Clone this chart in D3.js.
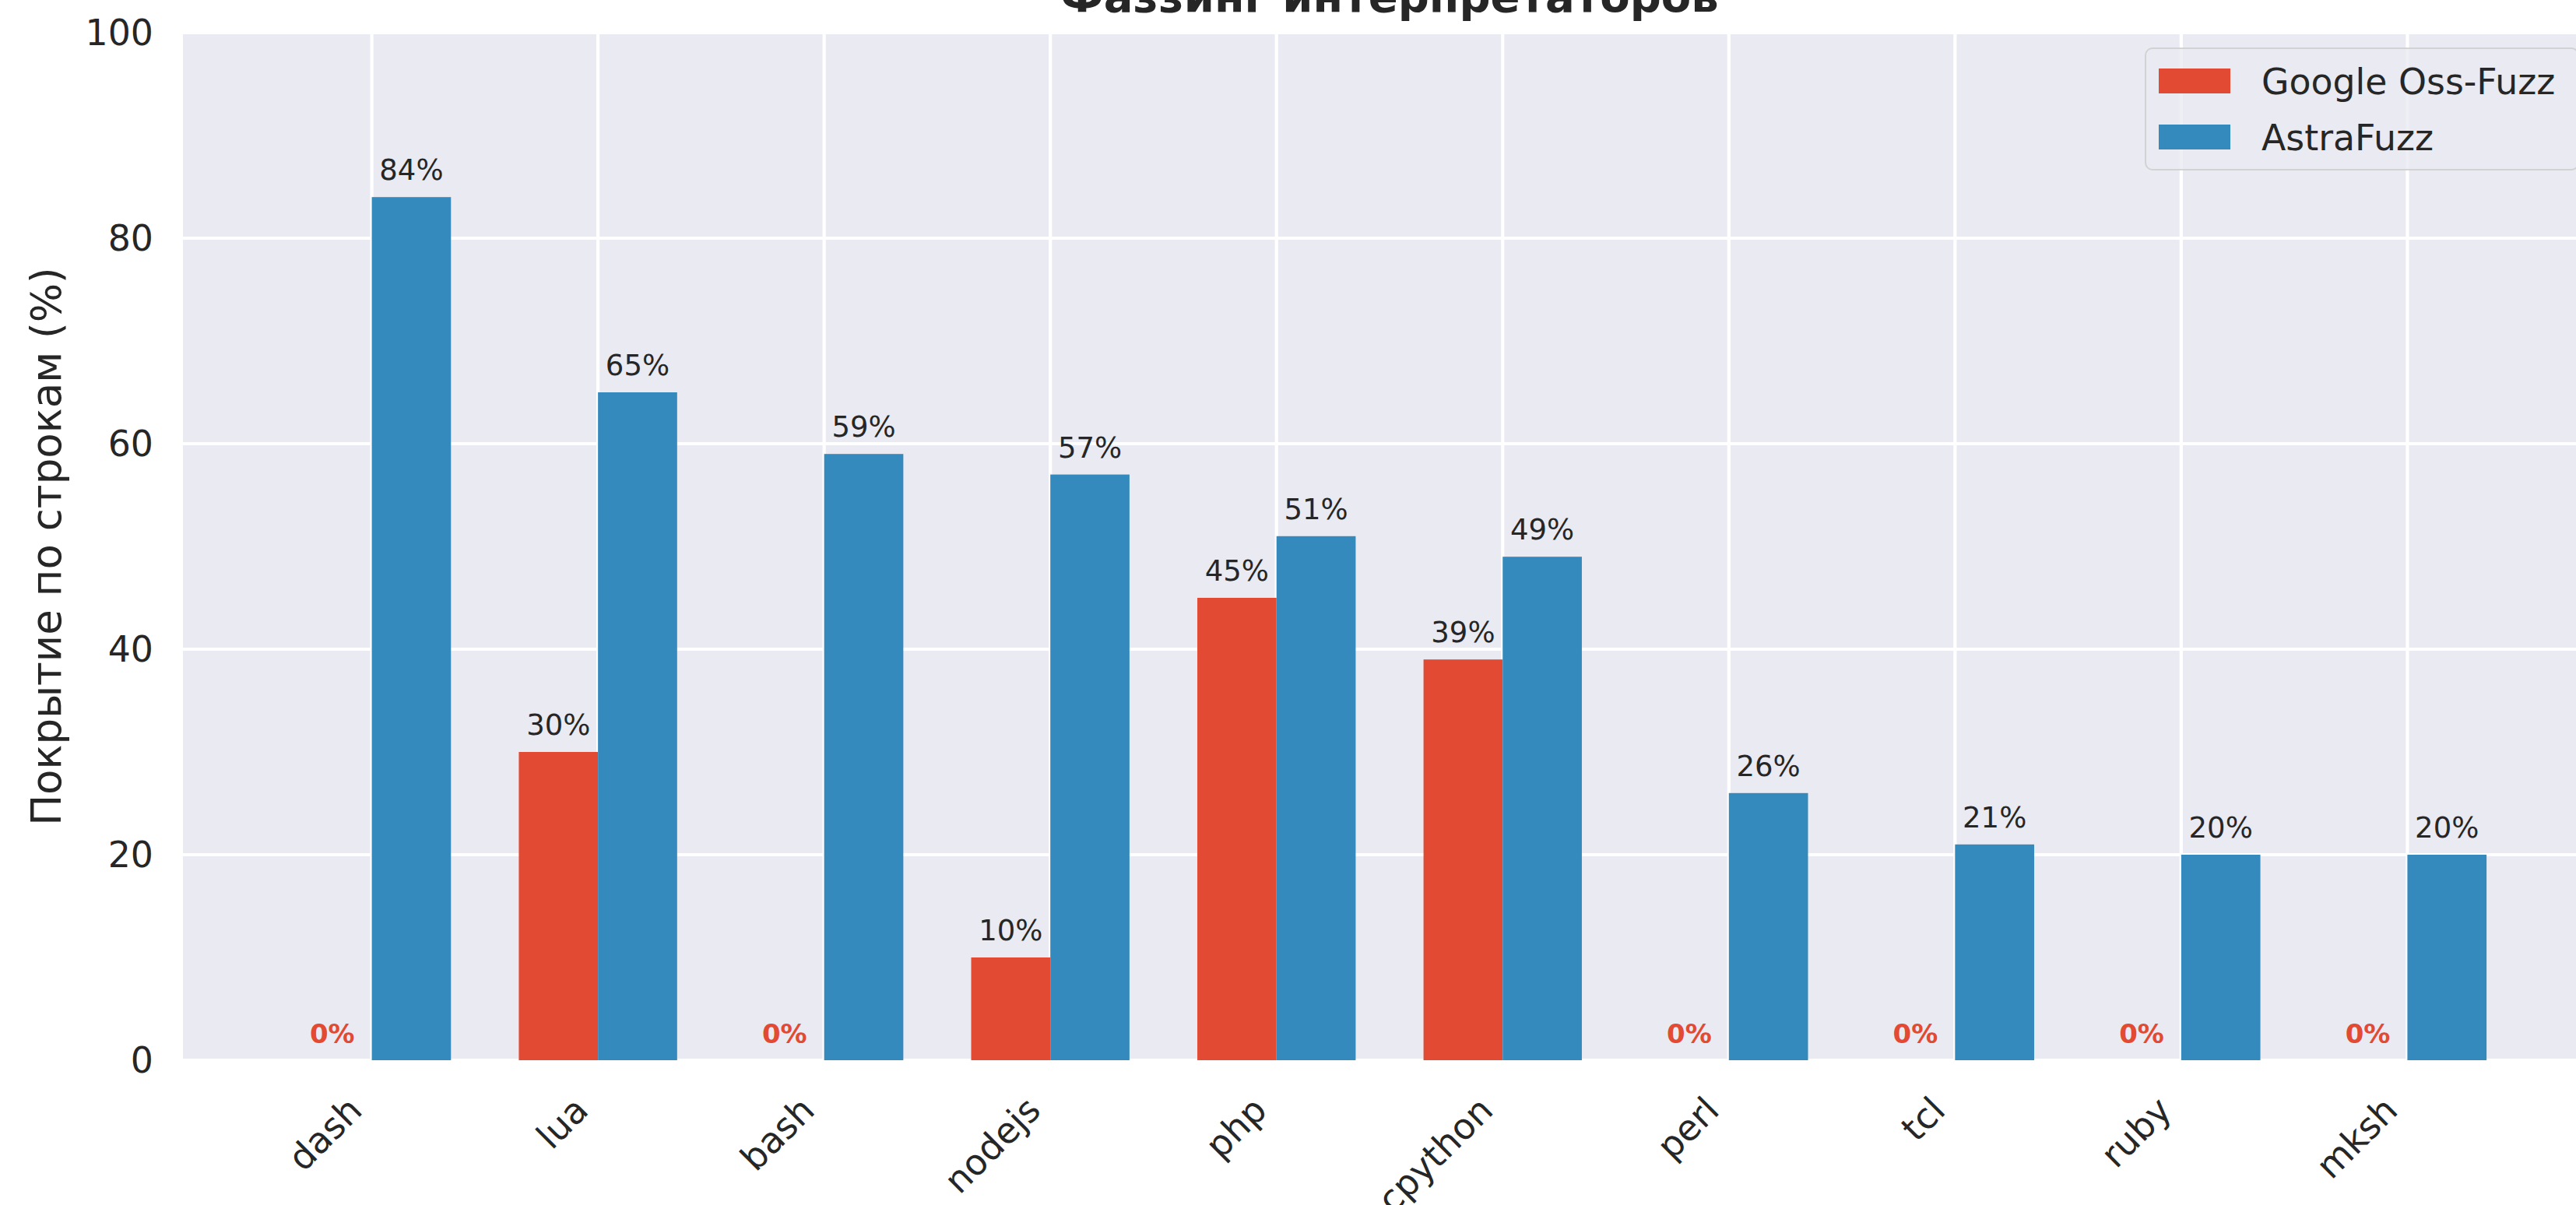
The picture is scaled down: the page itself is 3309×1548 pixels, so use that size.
<!DOCTYPE html>
<html>
<head>
<meta charset="utf-8">
<script src="https://cdn.jsdelivr.net/npm/d3@7"></script>
<style>
  html, body { margin: 0; padding: 0; background: #fff; overflow: hidden; }
  svg { display: block; font-family: "DejaVu Sans", sans-serif; }
</style>
</head>
<body>
<div id="chart"></div>
<script>
var categories = ['dash', 'lua', 'bash', 'nodejs', 'php', 'cpython', 'perl', 'tcl', 'ruby', 'mksh'];
var ossFuzz = [0, 30, 0, 10, 45, 39, 0, 0, 0, 0];
var astraFuzz = [84, 65, 59, 57, 51, 49, 26, 21, 20, 20];
var seriesNames = ['Google Oss-Fuzz', 'AstraFuzz'];
var seriesColors = ['#E24A33', '#348ABD'];
var yTicks = [0, 20, 40, 60, 80, 100];
var titleText = 'Фаззинг интерпретаторов';
var yLabel = 'Покрытие по строкам (%)';

var W = 3309, H = 1548;
var plot = {left: 235, right: 3335, top: 42, bottom: 1362};
var barW = 0.35;
var textColor = '#262626';

var svg = d3.select('#chart')
    .append('svg')
    .attr('width', W)
    .attr('height', H)
    .attr('viewBox', [0, 0, W, H].join(' '));

var x = d3.scaleLinear()
    .domain([-barW - 0.485, categories.length - 1 + barW + 0.485])
    .range([plot.left, plot.right]);
var y = d3.scaleLinear()
    .domain([0, 100])
    .range([plot.bottom, plot.top]);

// axes background
svg.append('rect')
    .attr('x', plot.left).attr('y', plot.top)
    .attr('width', plot.right - plot.left)
    .attr('height', plot.bottom - plot.top)
    .attr('fill', '#EAEAF2');

// grid
var grid = svg.append('g').attr('stroke', '#fff').attr('stroke-width', 4.2);
grid.selectAll('.hgrid').data(yTicks).enter()
    .append('line')
    .attr('class', 'hgrid')
    .attr('x1', plot.left).attr('x2', plot.right)
    .attr('y1', y).attr('y2', y);
grid.selectAll('.vgrid').data(categories).enter()
    .append('line')
    .attr('class', 'vgrid')
    .attr('x1', function (d, i) { return x(i); })
    .attr('x2', function (d, i) { return x(i); })
    .attr('y1', plot.top).attr('y2', plot.bottom);

// bars
var series = [ossFuzz, astraFuzz];
series.forEach(function (vals, s) {
    svg.append('g').selectAll('rect').data(vals).enter()
        .append('rect')
        .attr('x', function (d, i) { return x(i + (s - 1) * barW); })
        .attr('width', x(barW) - x(0))
        .attr('y', function (d) { return y(d); })
        .attr('height', function (d) { return y(0) - y(d); })
        .attr('fill', seriesColors[s]);
});

// value labels
series.forEach(function (vals, s) {
    svg.append('g').selectAll('text').data(vals).enter()
        .append('text')
        .attr('x', function (d, i) { return x(i + (s - 0.5) * barW); })
        .attr('y', function (d) { return y(d) - 22; })
        .attr('text-anchor', 'middle')
        .attr('font-size', function (d) { return d === 0 ? 34 : 37; })
        .attr('font-weight', function (d) { return d === 0 ? 'bold' : 'normal'; })
        .attr('fill', function (d) { return d === 0 ? seriesColors[0] : textColor; })
        .text(function (d) { return d + '%'; });
});

// y axis ticks
svg.append('g').selectAll('text').data(yTicks).enter()
    .append('text')
    .attr('x', 197)
    .attr('y', y)
    .attr('dy', '0.36em')
    .attr('text-anchor', 'end')
    .attr('font-size', 45.8)
    .attr('fill', textColor)
    .text(function (d) { return d; });

// x axis ticks, rotated 45
svg.append('g').selectAll('text').data(categories).enter()
    .append('text')
    .attr('transform', function (d, i) {
        return 'translate(' + (x(i) - 10) + ',' + (plot.bottom + 67) + ') rotate(-45)';
    })
    .attr('text-anchor', 'end')
    .attr('font-size', 45.8)
    .attr('fill', textColor)
    .text(function (d) { return d; });

// y label
svg.append('text')
    .attr('transform', 'translate(78,' + (plot.top + plot.bottom) / 2 + ') rotate(-90)')
    .attr('text-anchor', 'middle')
    .attr('font-size', 53)
    .attr('fill', textColor)
    .text(yLabel);

// title
svg.append('text')
    .attr('x', (plot.left + plot.right) / 2)
    .attr('y', 15)
    .attr('text-anchor', 'middle')
    .attr('font-size', 56)
    .attr('font-weight', 'bold')
    .attr('fill', textColor)
    .text(titleText);

// legend
var lg = svg.append('g');
lg.append('rect')
    .attr('x', 2756).attr('y', 62)
    .attr('width', plot.right - 23 - 2756).attr('height', 156)
    .attr('rx', 9)
    .attr('fill', '#EAEAF2').attr('fill-opacity', 0.8)
    .attr('stroke', '#CCCCCC').attr('stroke-opacity', 0.8).attr('stroke-width', 2);
seriesNames.forEach(function (name, i) {
    var cy = 104 + i * 72;
    lg.append('rect')
        .attr('x', 2773).attr('y', cy - 16)
        .attr('width', 92).attr('height', 32)
        .attr('fill', seriesColors[i]);
    lg.append('text')
        .attr('x', 2905).attr('y', cy + 17)
        .attr('font-size', 45.8)
        .attr('fill', textColor)
        .text(name);
});
</script>
</body>
</html>
